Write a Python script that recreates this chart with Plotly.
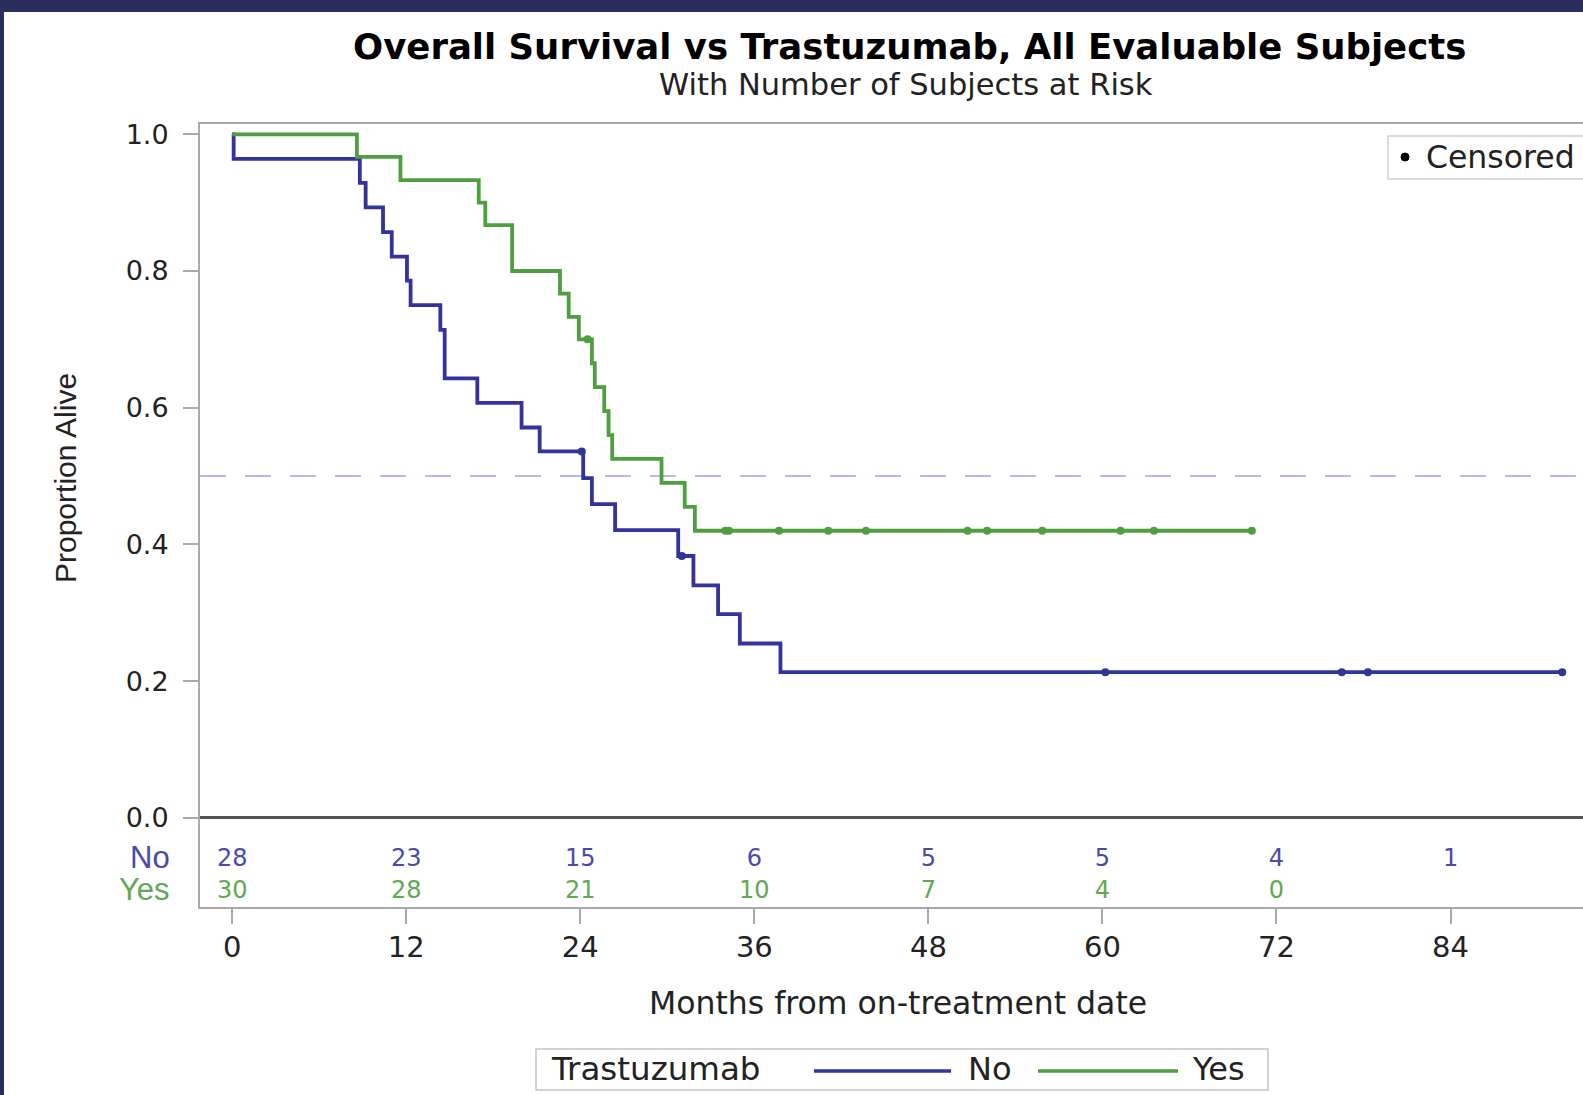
import plotly.graph_objects as go

# ---------------- data ----------------
# Trastuzumab = No (Kaplan-Meier step curve)
months_no = [0, 0.1, 8.8, 9.2, 10.4, 11.0, 12.05, 12.3, 14.35, 14.65, 16.9, 19.95,
             21.2, 24.2, 24.8, 26.4, 30.75, 31.8, 33.5, 35.0, 37.8, 91.7]
surv_no = [1.0, 0.964, 0.929, 0.893, 0.857, 0.821, 0.786, 0.750, 0.714, 0.643, 0.607, 0.571,
           0.536, 0.497, 0.459, 0.421, 0.383, 0.340, 0.298, 0.255, 0.213, 0.213]
censor_no_months = [24.1, 31.0, 60.2, 76.5, 78.3, 91.7]
censor_no_surv = [0.536, 0.383, 0.213, 0.213, 0.213, 0.213]

# Trastuzumab = Yes
months_yes = [0, 8.6, 11.6, 17.0, 17.45, 19.3, 22.6, 23.2, 23.9, 24.8, 25.0, 25.65,
              25.95, 26.2, 29.6, 31.2, 31.9, 70.3]
surv_yes = [1.0, 0.967, 0.933, 0.900, 0.867, 0.800, 0.767, 0.733, 0.700, 0.665, 0.630, 0.595,
            0.560, 0.525, 0.490, 0.455, 0.420, 0.420]
censor_yes_months = [24.5, 34.0, 34.25, 37.7, 41.1, 43.7, 50.7, 52.05, 55.85, 61.25, 63.55, 70.3]
censor_yes_surv = [0.700, 0.420, 0.420, 0.420, 0.420, 0.420, 0.420, 0.420, 0.420, 0.420, 0.420, 0.420]

# Number of subjects at risk
risk_months_no = [0, 12, 24, 36, 48, 60, 72, 84]
risk_no = [28, 23, 15, 6, 5, 5, 4, 1]
risk_months_yes = [0, 12, 24, 36, 48, 60, 72]
risk_yes = [30, 28, 21, 10, 7, 4, 0]

x_ticks = [0, 12, 24, 36, 48, 60, 72, 84]
y_ticks = [0.0, 0.2, 0.4, 0.6, 0.8, 1.0]
y_tick_text = ["0.0", "0.2", "0.4", "0.6", "0.8", "1.0"]

# ---------------- layout geometry ----------------
W, H = 1583, 1095
ML, MR, MT, MB = 200, 0, 124, 188
PW = W - ML - MR
PH = H - MT - MB


def px_x(px):
    return (px - ML) / PW


def px_y(py):
    return 1 - (py - MT) / PH


BLUE = "#33339b"
GREEN = "#4f9f40"
BLUE_T = "#4a4aab"
GREEN_T = "#5fa955"
NAVY = "#2a2e5c"
FRAME = "#a9a9a9"
FONT = "DejaVu Sans"
TXT = "#222222"

ROW_NO = -0.0615
ROW_YES = -0.1090

fig = go.Figure()

fig.add_trace(go.Scatter(x=months_no, y=surv_no, mode="lines", name="No",
                         line=dict(color=BLUE, width=3.8, shape="hv"), showlegend=False))
fig.add_trace(go.Scatter(x=months_yes, y=surv_yes, mode="lines", name="Yes",
                         line=dict(color=GREEN, width=3.8, shape="hv"), showlegend=False))
fig.add_trace(go.Scatter(x=censor_no_months, y=censor_no_surv, mode="markers", name="Censored",
                         marker=dict(color=BLUE, size=8), showlegend=False, cliponaxis=False))
fig.add_trace(go.Scatter(x=censor_yes_months, y=censor_yes_surv, mode="markers", name="Censored",
                         marker=dict(color=GREEN, size=8), showlegend=False, cliponaxis=False))

fig.add_trace(go.Scatter(x=risk_months_no, y=[ROW_NO] * len(risk_no), mode="text",
                         text=[str(v) for v in risk_no], textposition="middle center",
                         textfont=dict(family=FONT, size=24, color=BLUE_T),
                         showlegend=False, hoverinfo="skip"))
fig.add_trace(go.Scatter(x=risk_months_yes, y=[ROW_YES] * len(risk_yes), mode="text",
                         text=[str(v) for v in risk_yes], textposition="middle center",
                         textfont=dict(family=FONT, size=24, color=GREEN_T),
                         showlegend=False, hoverinfo="skip"))

x0 = (ML - 232.2) / 14.504
x1 = (W - MR - 232.2) / 14.504
y_top = 1 + (134.3 - MT) / 683.5
y_bot = -((H - MB) - 817.8) / 683.5

shapes = [
    # navy frame of the screenshot
    dict(type="rect", xref="paper", yref="paper", x0=px_x(0), x1=px_x(W), y0=px_y(0), y1=px_y(12),
         fillcolor=NAVY, line=dict(width=0), layer="above"),
    dict(type="rect", xref="paper", yref="paper", x0=px_x(0), x1=px_x(4), y0=px_y(0), y1=px_y(H),
         fillcolor=NAVY, line=dict(width=0), layer="above"),
    # median reference line
    dict(type="line", xref="paper", yref="y", x0=0, x1=1, y0=0.5, y1=0.5,
         line=dict(color="#b8b8ee", width=2, dash="26px,19px"), layer="below"),
    # Censored legend box
    dict(type="rect", xref="paper", yref="paper", x0=px_x(1388), x1=px_x(1600),
         y0=px_y(136), y1=px_y(179), line=dict(color="#d0d0d0", width=1.5), fillcolor="white"),
    dict(type="circle", xref="paper", yref="paper", x0=px_x(1401), x1=px_x(1409),
         y0=px_y(153), y1=px_y(161), line=dict(color="black", width=1), fillcolor="black"),
    # bottom legend box
    dict(type="rect", xref="paper", yref="paper", x0=px_x(536), x1=px_x(1268),
         y0=px_y(1049), y1=px_y(1090), line=dict(color="#c4c4c4", width=1.5), fillcolor="white"),
    dict(type="line", xref="paper", yref="paper", x0=px_x(814), x1=px_x(951),
         y0=px_y(1071), y1=px_y(1071), line=dict(color=BLUE, width=3.5)),
    dict(type="line", xref="paper", yref="paper", x0=px_x(1038), x1=px_x(1178),
         y0=px_y(1071), y1=px_y(1071), line=dict(color=GREEN, width=3.5)),
]

annotations = [
    dict(text="<b>Overall Survival vs Trastuzumab, All Evaluable Subjects</b>",
         x=px_x(909), y=px_y(46), xref="paper", yref="paper", showarrow=False,
         xanchor="center", yanchor="middle", font=dict(family=FONT, size=35.5, color="black")),
    dict(text="With Number of Subjects at Risk", x=px_x(906), y=px_y(84), xref="paper", yref="paper",
         showarrow=False, xanchor="center", yanchor="middle",
         font=dict(family=FONT, size=30.5, color=TXT)),
    dict(text="Proportion Alive", x=px_x(65), y=px_y(478), xref="paper", yref="paper",
         showarrow=False, xanchor="center", yanchor="middle", textangle=-90,
         font=dict(family="Liberation Sans", size=30, color=TXT)),
    dict(text="Months from on-treatment date", x=px_x(898), y=px_y(1003), xref="paper",
         yref="paper", showarrow=False, xanchor="center", yanchor="middle",
         font=dict(family=FONT, size=31.5, color=TXT)),
    dict(text="No", x=px_x(172), y=ROW_NO + 0.0041, xref="paper", yref="y", showarrow=False,
         xanchor="right", yanchor="middle", font=dict(family="Liberation Sans", size=31, color=BLUE_T)),
    dict(text="Yes", x=px_x(172), y=ROW_YES + 0.0041, xref="paper", yref="y", showarrow=False,
         xanchor="right", yanchor="middle", font=dict(family="Liberation Sans", size=31, color=GREEN_T)),
    dict(text="Censored", x=px_x(1424), y=px_y(157), xref="paper", yref="paper", showarrow=False,
         xanchor="left", yanchor="middle", font=dict(family=FONT, size=31.5, color=TXT)),
    dict(text="Trastuzumab", x=px_x(549), y=px_y(1069), xref="paper", yref="paper", showarrow=False,
         xanchor="left", yanchor="middle", font=dict(family=FONT, size=32.5, color=TXT)),
    dict(text="No", x=px_x(966), y=px_y(1069), xref="paper", yref="paper", showarrow=False,
         xanchor="left", yanchor="middle", font=dict(family=FONT, size=32, color=TXT)),
    dict(text="Yes", x=px_x(1190), y=px_y(1069), xref="paper", yref="paper", showarrow=False,
         xanchor="left", yanchor="middle", font=dict(family=FONT, size=32, color=TXT)),
]

fig.update_layout(
    width=W, height=H,
    margin=dict(l=ML, r=MR, t=MT, b=MB, pad=0),
    paper_bgcolor="white", plot_bgcolor="white",
    showlegend=False,
    shapes=shapes, annotations=annotations,
    xaxis=dict(range=[x0, x1], tickvals=x_ticks, ticktext=[str(v) for v in x_ticks],
               showgrid=False, zeroline=False, showline=True, linecolor=FRAME, linewidth=2,
               mirror=True, ticks="outside", ticklen=15, tickwidth=2, tickcolor=FRAME,
               tickfont=dict(family=FONT, size=29, color=TXT), ticklabelstandoff=-2),
    yaxis=dict(range=[y_bot, y_top], tickvals=y_ticks, ticktext=y_tick_text,
               showgrid=False, zeroline=True, zerolinecolor="#555555", zerolinewidth=2.5,
               showline=True, linecolor=FRAME, linewidth=2, ticks="outside", ticklen=15,
               tickwidth=2, tickcolor=FRAME, ticklabelstandoff=9,
               tickfont=dict(family=FONT, size=27, color=TXT)),
)

fig.write_html("out.html")
